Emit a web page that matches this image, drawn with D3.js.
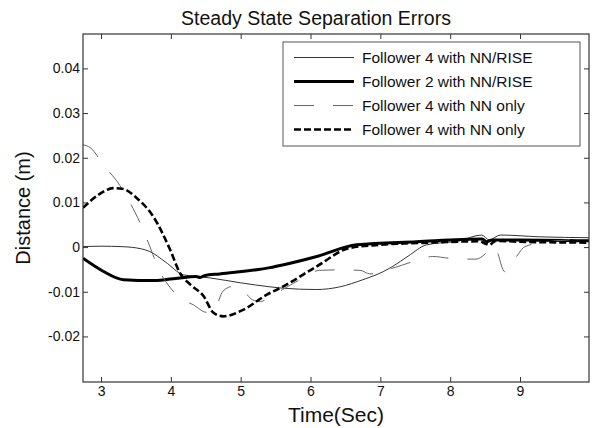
<!DOCTYPE html>
<html>
<head>
<meta charset="utf-8">
<script src="https://cdn.jsdelivr.net/npm/d3@7"></script>
<style>
  body { margin: 0; background: #fff; }
  text { font-family: "Liberation Sans", Arial, sans-serif; fill: #111; }
</style>
</head>
<body>
<svg id="chart" width="592" height="428"></svg>
<script>
// axis ticks
var xTicks = [3, 4, 5, 6, 7, 8, 9];
var yTicks = [0.04, 0.03, 0.02, 0.01, 0, -0.01, -0.02];
var yTickLabels = ["0.04", "0.03", "0.02", "0.01", "0", "-0.01", "-0.02"];

// Follower 4 with NN/RISE (thin solid)
var tA = [2.742, 3.0, 3.3, 3.58, 3.7, 3.92, 4.18, 4.56, 5.0, 5.42, 5.6, 6.09, 6.42, 6.75, 7.04, 7.18, 7.4, 7.66, 8.13, 8.45, 8.56, 8.72, 9.28, 9.99];
var vA = [0.0001, 0.0002, 0.0001, -0.0004, -0.001, -0.0033, -0.0062, -0.0069, -0.008, -0.0089, -0.0092, -0.0095, -0.0089, -0.0073, -0.0055, -0.0043, -0.002, 0.0005, 0.0014, 0.0027, 0.0016, 0.0027, 0.0023, 0.0021];

// Follower 2 with NN/RISE (thick solid)
var tB = [2.742, 3.03, 3.32, 3.75, 4.13, 4.36, 4.42, 4.48, 4.7, 5.42, 5.6, 6.09, 6.66, 7.52, 8.46, 8.52, 8.6, 9.0, 9.99];
var vB = [-0.0025, -0.0054, -0.0073, -0.0075, -0.0069, -0.0066, -0.0068, -0.0064, -0.006, -0.0046, -0.004, -0.0021, 0.0005, 0.0012, 0.0018, 0.0012, 0.0016, 0.0016, 0.0014];

// Follower 4 with NN only (thin dashed, grey)
var tC = [2.742, 2.85, 3.03, 3.27, 3.42, 3.56, 3.70, 3.85, 3.94, 4.13, 4.32, 4.51, 4.6, 4.75, 4.89, 5.05, 5.17, 5.28, 5.42, 5.6, 5.85, 6.13, 6.4, 6.71, 6.85, 7.18, 7.56, 7.75, 7.99, 8.37, 8.52, 8.61, 8.66, 8.78, 8.95, 9.07, 9.4, 9.99];
var vC = [0.0229, 0.0222, 0.0185, 0.0138, 0.0098, 0.0054, 0.0001, -0.0058, -0.008, -0.0114, -0.0129, -0.0146, -0.0146, -0.0098, -0.0088, -0.0100, -0.0118, -0.0122, -0.0112, -0.0095, -0.0073, -0.0052, -0.0051, -0.0052, -0.0060, -0.0047, -0.0028, -0.0021, -0.0025, -0.0027, -0.0013, 0.0001, -0.0006, -0.0055, -0.0021, 0.0001, 0.0012, 0.0018];

// Follower 4 with NN only (thick dashed)
var tD = [2.742, 3.035, 3.17, 3.32, 3.51, 3.75, 3.99, 4.13, 4.28, 4.47, 4.61, 4.75, 5.04, 5.37, 5.61, 6.09, 6.56, 6.99, 7.71, 8.42, 8.5, 8.56, 8.65, 9.0, 9.99];
var vD = [0.0088, 0.0124, 0.0132, 0.0130, 0.0110, 0.0068, -0.0006, -0.0058, -0.0084, -0.0110, -0.0147, -0.0155, -0.0140, -0.0107, -0.0088, -0.0043, -0.0002, 0.0005, 0.0010, 0.0013, 0.0008, 0.0005, 0.0014, 0.0012, 0.0010];

var legendNames = ["Follower 4 with NN/RISE", "Follower 2 with NN/RISE", "Follower 4 with NN only", "Follower 4 with NN only"];

var series = [
    { t: tA, v: vA, stroke: "#333", width: 1, dash: null },
    { t: tB, v: vB, stroke: "#000", width: 3, dash: null },
    { t: tC, v: vC, stroke: "#666", width: 1, dash: "20,19" },
    { t: tD, v: vD, stroke: "#000", width: 2.6, dash: "7,3" }
];

// plot box (window.top is read-only, so no bare "top")
var mLeft = 83, mRight = 589, mTop = 34, mBottom = 382;

var x = d3.scaleLinear().domain([2.742, 9.988]).range([mLeft, mRight]);
var y = d3.scaleLinear().domain([-0.0302, 0.0477]).range([mBottom, mTop]);

var svg = d3.select("#chart");

svg.append("defs").append("clipPath").attr("id", "plotclip")
    .append("rect")
    .attr("x", mLeft).attr("y", mTop)
    .attr("width", mRight - mLeft).attr("height", mBottom - mTop);

// curves
var line = d3.line()
    .x(function(d) { return x(d[0]); })
    .y(function(d) { return y(d[1]); })
    .curve(d3.curveMonotoneX);

svg.append("g")
    .attr("clip-path", "url(#plotclip)")
    .selectAll("path")
    .data(series)
    .enter()
    .append("path")
    .attr("d", function(s) { return line(d3.zip(s.t, s.v)); })
    .attr("fill", "none")
    .attr("stroke", function(s) { return s.stroke; })
    .attr("stroke-width", function(s) { return s.width; })
    .attr("stroke-dasharray", function(s) { return s.dash; })
    .attr("stroke-linejoin", "round");

// axes, ticks inward on all four sides
var tickLen = 5;
function styleAxis(g) {
    g.select(".domain").remove();
    g.selectAll(".tick line").attr("stroke", "#333");
    g.selectAll(".tick text").attr("fill", "#111").style("font-size", "14px")
        .style("font-family", "'Liberation Sans', Arial, sans-serif");
}

svg.append("g")
    .attr("transform", "translate(0," + mBottom + ")")
    .call(d3.axisBottom(x).tickValues(xTicks).tickSize(-tickLen).tickPadding(4).tickFormat(d3.format("d")))
    .call(styleAxis);

svg.append("g")
    .attr("transform", "translate(0," + mTop + ")")
    .call(d3.axisTop(x).tickValues(xTicks).tickSize(-tickLen).tickFormat(""))
    .call(styleAxis);

svg.append("g")
    .attr("transform", "translate(" + mLeft + ",0)")
    .call(d3.axisLeft(y).tickValues(yTicks).tickSize(-tickLen).tickPadding(3)
        .tickFormat(function(d, i) { return yTickLabels[i]; }))
    .call(styleAxis);

svg.append("g")
    .attr("transform", "translate(" + mRight + ",0)")
    .call(d3.axisRight(y).tickValues(yTicks).tickSize(-tickLen).tickFormat(""))
    .call(styleAxis);

svg.append("rect")
    .attr("x", mLeft).attr("y", mTop)
    .attr("width", mRight - mLeft).attr("height", mBottom - mTop)
    .attr("fill", "none").attr("stroke", "#333").attr("stroke-width", 1.2);

// title and labels
svg.append("text")
    .attr("x", 316).attr("y", 25)
    .attr("text-anchor", "middle")
    .style("font-size", "19.5px")
    .text("Steady State Separation Errors");

svg.append("text")
    .attr("x", 336).attr("y", 422)
    .attr("text-anchor", "middle")
    .style("font-size", "21px")
    .text("Time(Sec)");

svg.append("text")
    .attr("transform", "translate(30," + ((mTop + mBottom) / 2) + ") rotate(-90)")
    .attr("text-anchor", "middle")
    .style("font-size", "20px")
    .text("Distance (m)");

// legend
var lg = svg.append("g").attr("id", "legend");
lg.append("rect")
    .attr("x", 283).attr("y", 42)
    .attr("width", 297).attr("height", 104)
    .attr("fill", "#fff").attr("stroke", "#555").attr("stroke-width", 1);

var rows = lg.selectAll(".row")
    .data(series)
    .enter()
    .append("g")
    .attr("class", "row")
    .attr("transform", function(d, i) { return "translate(0," + (57.5 + i * 24) + ")"; });

rows.append("line")
    .attr("x1", 294).attr("x2", 354)
    .attr("y1", 0).attr("y2", 0)
    .attr("stroke", function(s) { return s.stroke; })
    .attr("stroke-width", function(s) { return s.width; })
    .attr("stroke-dasharray", function(s) { return s.dash; });

rows.append("text")
    .attr("x", 362).attr("y", 5.5)
    .style("font-size", "15.5px")
    .text(function(d, i) { return legendNames[i]; });
</script>
</body>
</html>
